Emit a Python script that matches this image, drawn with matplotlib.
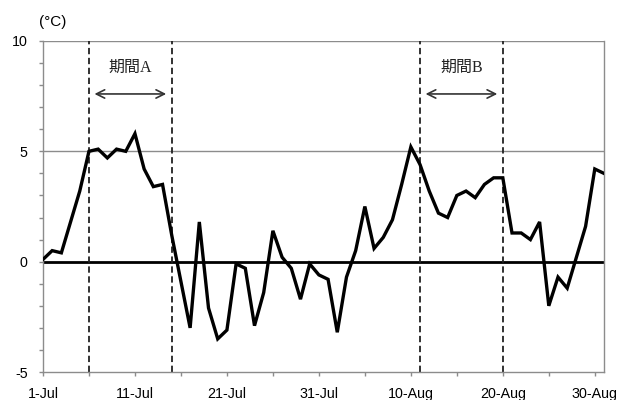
import numpy as np
import matplotlib
matplotlib.use('Agg')
import matplotlib.pyplot as plt

plt.rcParams['axes.unicode_minus'] = False

# daily temperature anomaly, 1-Jul .. 31-Aug
anomaly = [0.1, 0.5, 0.4, 1.8, 3.2, 5.0, 5.1, 4.7, 5.1, 5.0,
           5.8, 4.2, 3.4, 3.5, 1.2, -0.9, -3.0, 1.8, -2.1, -3.5,
           -3.1, -0.1, -0.3, -2.9, -1.4, 1.4, 0.2, -0.3, -1.7, -0.1,
           -0.6, -0.8, -3.2, -0.7, 0.5, 2.5, 0.6, 1.1, 1.9, 3.5,
           5.2, 4.4, 3.2, 2.2, 2.0, 3.0, 3.2, 2.9, 3.5, 3.8,
           3.8, 1.3, 1.3, 1.0, 1.8, -2.0, -0.7, -1.2, 0.2, 1.6,
           4.2, 4.0]
days = np.arange(len(anomaly))

tick_days = [0, 10, 20, 30, 40, 50, 60]
tick_labels = ['1-Jul', '11-Jul', '21-Jul', '31-Jul', '10-Aug', '20-Aug', '30-Aug']

# period boundaries (day index) and labels
periods = [(5, 14, '期間A'), (41, 50, '期間B')]

fig = plt.figure(figsize=(6.21, 4.0), dpi=100)
ax = fig.add_axes([0.0692, 0.07, 0.9034, 0.8275])

grey = '#8c8c8c'
for y in (5, 10):
    ax.axhline(y, color=grey, lw=1.0, zorder=1)
ax.axhline(0, color='black', lw=2.0, zorder=2)

for start, end, name in periods:
    for d in (start, end):
        ax.axvline(d, color='#222222', lw=1.3, ls=(0, (3.5, 2)), zorder=2)
    ax.annotate('', xy=(start + 0.3, 7.6), xytext=(end - 0.3, 7.6),
                arrowprops=dict(arrowstyle='<->', color='#333333', lw=1.2,
                                mutation_scale=15))
    ax.text((start + end) / 2, 8.8, name, ha='center', va='center', fontsize=11.5,
            family=['Liberation Serif', 'Noto Sans CJK JP'], color='#222222')

ax.plot(days, anomaly, color='black', lw=2.4, solid_joinstyle='miter', zorder=3)

ax.set_xlim(0, 61)
ax.set_ylim(-5, 10)
ax.set_yticks([-5, 0, 5, 10])
ax.set_yticks(np.arange(-5, 11, 1), minor=True)
ax.set_xticks(tick_days)
ax.set_xticklabels(tick_labels)
ax.set_xticks(np.arange(0, 62, 5), minor=True)

ax.spines['top'].set_visible(False)
for side in ('left', 'bottom', 'right'):
    ax.spines[side].set_color(grey)
    ax.spines[side].set_linewidth(1.0)

ax.tick_params(which='both', direction='out', length=3, color=grey, width=1.0)
ax.tick_params(axis='both', labelsize=10.3, pad=8)
for lab in ax.get_xticklabels() + ax.get_yticklabels():
    lab.set_family('Liberation Sans')

fig.text(53 / 621, 1 - 22 / 400, '(°C)', ha='center', va='center', fontsize=11,
         family='Liberation Sans')

fig.savefig('out.png', dpi=100)
